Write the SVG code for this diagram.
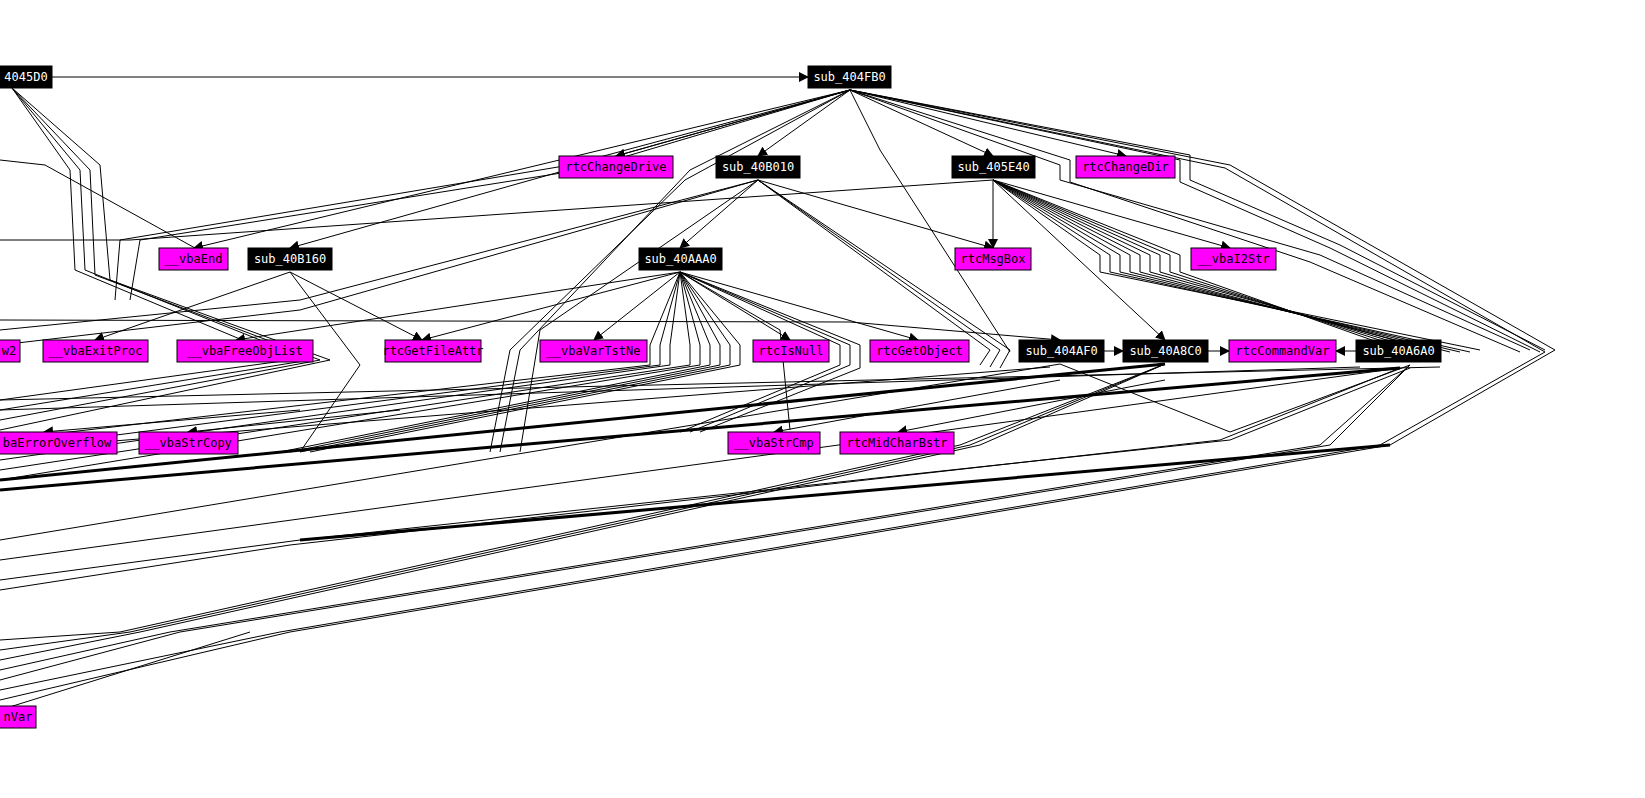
<svg xmlns="http://www.w3.org/2000/svg" width="1645" height="798" viewBox="0 0 1645 798">
<style>
.n rect{stroke:#000;stroke-width:1}
.b rect{fill:#000}
.m rect{fill:#ff00ff}
text{font-family:"DejaVu Sans Mono","Liberation Mono",monospace;font-size:12px;text-anchor:middle}
.b text{fill:#fff}
.m text{fill:#000}
#edges polyline,#edges line{fill:none;stroke:#000;stroke-width:1}
.a{marker-end:url(#ar)}
.t{stroke-width:3!important}
</style>
<defs><marker id="ar" markerWidth="10" markerHeight="10" refX="9" refY="5" orient="auto" markerUnits="userSpaceOnUse"><path d="M0,0 L10,5 L0,10 z" fill="#000"/></marker></defs>
<rect width="1645" height="798" fill="#fff"/>
<g id="edges">
<line class="a" x1="52" y1="77" x2="808" y2="77"/>
<line class="a" x1="850" y1="90" x2="616" y2="156"/>
<line class="a" x1="850" y1="90" x2="758" y2="156"/>
<line class="a" x1="850" y1="90" x2="993" y2="156"/>
<line class="a" x1="850" y1="90" x2="1126" y2="156"/>
<line class="a" x1="850" y1="90" x2="194" y2="248"/>
<line class="a" x1="850" y1="90" x2="290" y2="248"/>
<polyline points="850,90 880,150 1010,352"/>
<polyline points="850,90 690,170 520,350 500,452"/>
<polyline points="850,90 685,180 510,350 490,452"/>
<polyline points="850,90 1060,165 1060,180 1320,255 1530,350"/>
<polyline points="850,90 1070,160 1070,182 1310,262 1520,352"/>
<polyline points="850,90 1180,160 1180,182 1330,248 1540,352"/>
<polyline points="850,90 1190,155 1190,180 1340,245 1545,350"/>
<polyline points="850,90 1230,165 1555,350 1390,445 290,632 0,700"/>
<polyline points="850,90 1225,168 1545,352 1380,445 280,632 0,690"/>
<polyline points="850,90 580,170 140,240 130,300"/>
<polyline points="850,90 570,165 120,240 115,300"/>
<line class="a" x1="993" y1="180" x2="993" y2="248"/>
<line class="a" x1="993" y1="180" x2="1230" y2="248"/>
<line class="a" x1="993" y1="180" x2="1165" y2="340"/>
<polyline points="993,180 1100,255 1100,272 1480,350"/>
<polyline points="993,180 1110,255 1110,272 1470,352"/>
<polyline points="993,180 1120,255 1120,272 1460,352"/>
<polyline points="993,180 1130,255 1130,272 1450,352"/>
<polyline points="993,180 1140,255 1140,272 1440,352"/>
<polyline points="993,180 1150,255 1150,272 1430,350"/>
<polyline points="993,180 1160,255 1160,272 1420,350"/>
<polyline points="993,180 1170,255 1170,272 1410,350"/>
<polyline points="993,180 1180,255 1180,272 1400,350"/>
<polyline points="993,180 130,240 0,240"/>
<line class="a" x1="758" y1="180" x2="680" y2="248"/>
<line class="a" x1="758" y1="180" x2="993" y2="248"/>
<polyline points="758,180 990,350 980,365"/>
<polyline points="758,180 1000,350 990,367"/>
<polyline points="758,180 1010,350 1000,368"/>
<polyline points="758,180 540,330 520,452"/>
<polyline points="758,180 300,300 0,330"/>
<polyline points="758,180 300,310 0,345"/>
<line class="a" x1="680" y1="272" x2="594" y2="340"/>
<line class="a" x1="680" y1="272" x2="790" y2="340"/>
<line class="a" x1="680" y1="272" x2="918" y2="340"/>
<line class="a" x1="680" y1="272" x2="236" y2="340"/>
<line class="a" x1="680" y1="272" x2="422" y2="340"/>
<polyline points="680,272 650,345 650,365 0,440"/>
<polyline points="680,272 660,345 660,365 0,450"/>
<polyline points="680,272 670,345 670,365 0,460"/>
<polyline points="680,272 690,345 690,365 0,470"/>
<polyline points="680,272 700,345 700,365 0,480"/>
<polyline points="680,272 710,345 710,365 280,452"/>
<polyline points="680,272 720,345 720,365 290,452"/>
<polyline points="680,272 730,345 730,365 300,452"/>
<polyline points="680,272 740,345 740,365 310,452"/>
<polyline points="680,272 840,345 840,365 680,432"/>
<polyline points="680,272 850,345 850,365 690,432"/>
<polyline points="680,272 860,345 860,368 700,432"/>
<polyline points="680,272 780,330 790,430"/>
<line class="a" x1="290" y1="272" x2="422" y2="340"/>
<line class="a" x1="290" y1="272" x2="95" y2="340"/>
<polyline points="290,272 360,365 300,452"/>
<polyline points="12,88 100,165 110,280 330,360 0,430"/>
<polyline points="12,88 90,170 95,275 320,360 0,420"/>
<polyline points="12,88 80,170 85,270 310,360 0,410"/>
<polyline points="12,88 70,170 75,270 290,360 0,400"/>
<polyline points="0,160 45,165 195,248"/>
<line class="a" x1="1104" y1="351" x2="1123" y2="351"/>
<line class="a" x1="1208" y1="351" x2="1229" y2="351"/>
<line class="a" x1="1356" y1="351" x2="1336" y2="351"/>
<polyline class="a" points="0,320 850,322 1060,340"/>
<polyline points="1060,364 1230,432 1410,365"/>
<line class="t" x1="1400" y1="368" x2="0" y2="490"/>
<line class="t" x1="1165" y1="364" x2="0" y2="480"/>
<line class="t" x1="1390" y1="445" x2="300" y2="540"/>
<polyline points="1410,368 1230,440 300,540 0,580"/>
<polyline points="1400,368 1220,440 290,545 0,590"/>
<polyline points="1165,364 960,445 120,632 0,640"/>
<polyline points="1165,364 970,445 130,632 0,650"/>
<polyline points="1165,364 980,445 140,632 0,660"/>
<polyline points="1410,365 1320,445 170,632 0,670"/>
<polyline points="1410,365 1330,445 180,632 0,680"/>
<line x1="1440" y1="367" x2="0" y2="400"/>
<line x1="1360" y1="367" x2="0" y2="410"/>
<line x1="1050" y1="367" x2="0" y2="450"/>
<polyline points="1060,364 0,540"/>
<polyline points="1400,368 0,560"/>
<line x1="0" y1="710" x2="250" y2="632"/>
<line class="a" x1="300" y1="410" x2="44" y2="432"/>
<line class="a" x1="400" y1="410" x2="188" y2="432"/>
<line class="a" x1="1060" y1="380" x2="774" y2="432"/>
<line class="a" x1="1165" y1="380" x2="898" y2="432"/>
</g>
<g id="sub_4045D0" class="n b"><rect x="-30" y="66" width="82" height="22"/><text x="26" y="81">4045D0</text></g>
<g id="sub_404FB0" class="n b"><rect x="808" y="66" width="83" height="22"/><text x="849.5" y="81">sub_404FB0</text></g>
<g id="rtcChangeDrive" class="n m"><rect x="559" y="156" width="114" height="22"/><text x="616" y="171">rtcChangeDrive</text></g>
<g id="sub_40B010" class="n b"><rect x="716" y="156" width="84" height="22"/><text x="758" y="171">sub_40B010</text></g>
<g id="sub_405E40" class="n b"><rect x="952" y="156" width="83" height="22"/><text x="993.5" y="171">sub_405E40</text></g>
<g id="rtcChangeDir" class="n m"><rect x="1076" y="156" width="99" height="22"/><text x="1125.5" y="171">rtcChangeDir</text></g>
<g id="vbaEnd" class="n m"><rect x="159" y="248" width="69" height="22"/><text x="193.5" y="263">__vbaEnd</text></g>
<g id="sub_40B160" class="n b"><rect x="248" y="248" width="84" height="22"/><text x="290" y="263">sub_40B160</text></g>
<g id="sub_40AAA0" class="n b"><rect x="639" y="248" width="83" height="22"/><text x="680.5" y="263">sub_40AAA0</text></g>
<g id="rtcMsgBox" class="n m"><rect x="955" y="248" width="76" height="22"/><text x="993" y="263">rtcMsgBox</text></g>
<g id="vbaI2Str" class="n m"><rect x="1191" y="248" width="85" height="22"/><text x="1233.5" y="263">__vbaI2Str</text></g>
<g id="w2" class="n m"><rect x="-40" y="340" width="60" height="22"/><text x="9" y="355">w2</text></g>
<g id="vbaExitProc" class="n m"><rect x="43" y="340" width="105" height="22"/><text x="95.5" y="355">__vbaExitProc</text></g>
<g id="vbaFreeObjList" class="n m"><rect x="177" y="340" width="136" height="22"/><text x="245" y="355">__vbaFreeObjList</text></g>
<g id="rtcGetFileAttr" class="n m"><rect x="385" y="340" width="96" height="22"/><text x="433" y="355">rtcGetFileAttr</text></g>
<g id="vbaVarTstNe" class="n m"><rect x="540" y="340" width="107" height="22"/><text x="593.5" y="355">__vbaVarTstNe</text></g>
<g id="rtcIsNull" class="n m"><rect x="753" y="340" width="76" height="22"/><text x="791" y="355">rtcIsNull</text></g>
<g id="rtcGetObject" class="n m"><rect x="870" y="340" width="99" height="22"/><text x="919.5" y="355">rtcGetObject</text></g>
<g id="sub_404AF0" class="n b"><rect x="1019" y="340" width="85" height="22"/><text x="1061.5" y="355">sub_404AF0</text></g>
<g id="sub_40A8C0" class="n b"><rect x="1123" y="340" width="85" height="22"/><text x="1165.5" y="355">sub_40A8C0</text></g>
<g id="rtcCommandVar" class="n m"><rect x="1229" y="340" width="107" height="22"/><text x="1282.5" y="355">rtcCommandVar</text></g>
<g id="sub_40A6A0" class="n b"><rect x="1356" y="340" width="85" height="22"/><text x="1398.5" y="355">sub_40A6A0</text></g>
<g id="vbaErrorOverflow" class="n m"><rect x="-30" y="432" width="147" height="22"/><text x="57" y="447">baErrorOverflow</text></g>
<g id="vbaStrCopy" class="n m"><rect x="139" y="432" width="99" height="22"/><text x="188.5" y="447">__vbaStrCopy</text></g>
<g id="vbaStrCmp" class="n m"><rect x="728" y="432" width="92" height="22"/><text x="774" y="447">__vbaStrCmp</text></g>
<g id="rtcMidCharBstr" class="n m"><rect x="840" y="432" width="114" height="22"/><text x="897" y="447">rtcMidCharBstr</text></g>
<g id="nVar" class="n m"><rect x="-80" y="706" width="116" height="22"/><text x="18" y="721">nVar</text></g>
</svg>
